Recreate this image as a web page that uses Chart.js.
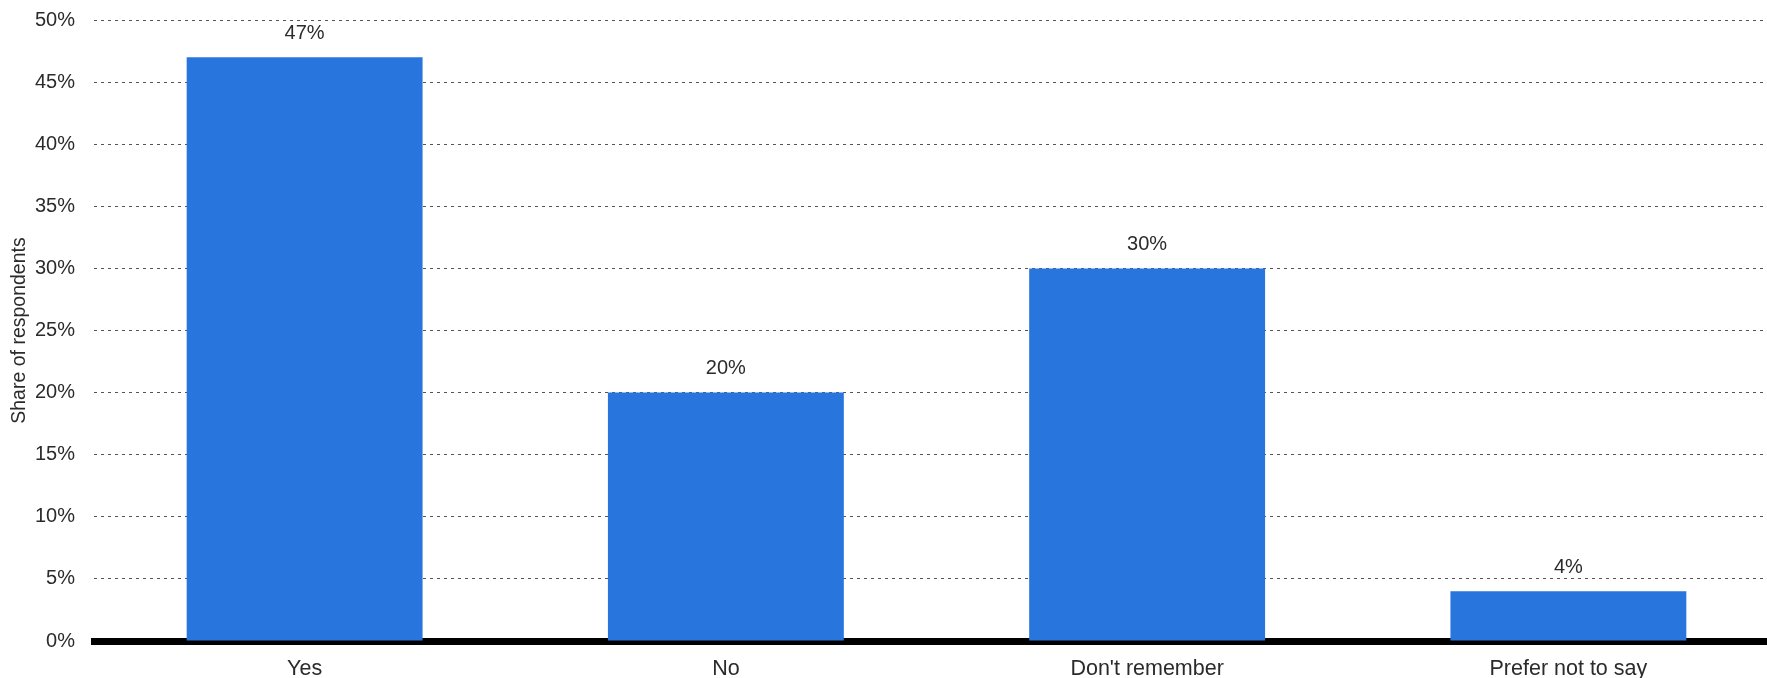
<!DOCTYPE html>
<html>
<head>
<meta charset="utf-8">
<script src="https://cdn.jsdelivr.net/npm/chart.js@4/dist/chart.umd.min.js"></script>
<style>
  html, body { margin: 0; padding: 0; background: #fff; overflow: hidden; }
  #wrap { width: 1779px; height: 678px; }
</style>
</head>
<body>
<div id="wrap"><canvas id="chart" width="1779" height="678"></canvas></div>
<script>
const categories = ["Yes", "No", "Don't remember", "Prefer not to say"];
const shares = [47, 20, 30, 4];
const yTicks = [0, 5, 10, 15, 20, 25, 30, 35, 40, 45, 50];

const FONT = "'Liberation Sans', Arial, sans-serif";

// label di atas tiap batang
const valueLabels = {
  id: "valueLabels",
  afterDatasetsDraw(chart) {
    const ctx = chart.ctx;
    const meta = chart.getDatasetMeta(0);
    ctx.save();
    ctx.font = "20px " + FONT;
    ctx.fillStyle = "#2b2b2b";
    ctx.textAlign = "center";
    ctx.textBaseline = "middle";
    meta.data.forEach((bar, i) => {
      ctx.fillText(shares[i] + "%", bar.x, bar.y - 24);
    });
    ctx.restore();
  }
};

new Chart(document.getElementById("chart"), {
  type: "bar",
  data: {
    labels: categories,
    datasets: [{
      data: shares,
      backgroundColor: "#2876dd",
      barPercentage: 0.56,
      categoryPercentage: 1
    }]
  },
  options: {
    responsive: false,
    animation: false,
    layout: { padding: { top: 20, right: 0, bottom: 0, left: 0 } },
    plugins: { legend: { display: false }, tooltip: { enabled: false } },
    scales: {
      x: {
        grid: { display: false, drawTicks: false },
        border: { color: "#000", width: 7 },
        ticks: { color: "#2b2b2b", font: { family: FONT, size: 21.5 }, padding: 15 },
        afterFit: s => { s.height = 37; s.paddingLeft = 0; s.paddingRight = 0; }
      },
      y: {
        min: 0,
        max: 50,
        afterBuildTicks: s => { s.ticks = yTicks.map(v => ({ value: v })); },
        grid: { color: "#555", drawTicks: false, lineWidth: 1 },
        border: { display: false, dash: [3, 4] },
        ticks: {
          color: "#2b2b2b",
          font: { family: FONT, size: 20 },
          padding: 19,
          callback: v => v + "%"
        },
        title: {
          display: true,
          text: "Share of respondents",
          color: "#2b2b2b",
          font: { family: FONT, size: 19.5 },
          padding: { top: 8, bottom: 0 }
        },
        afterFit: s => { s.width = 94; s.paddingTop = 0; s.paddingBottom = 0; }
      }
    }
  },
  plugins: [valueLabels]
});
</script>
</body>
</html>
